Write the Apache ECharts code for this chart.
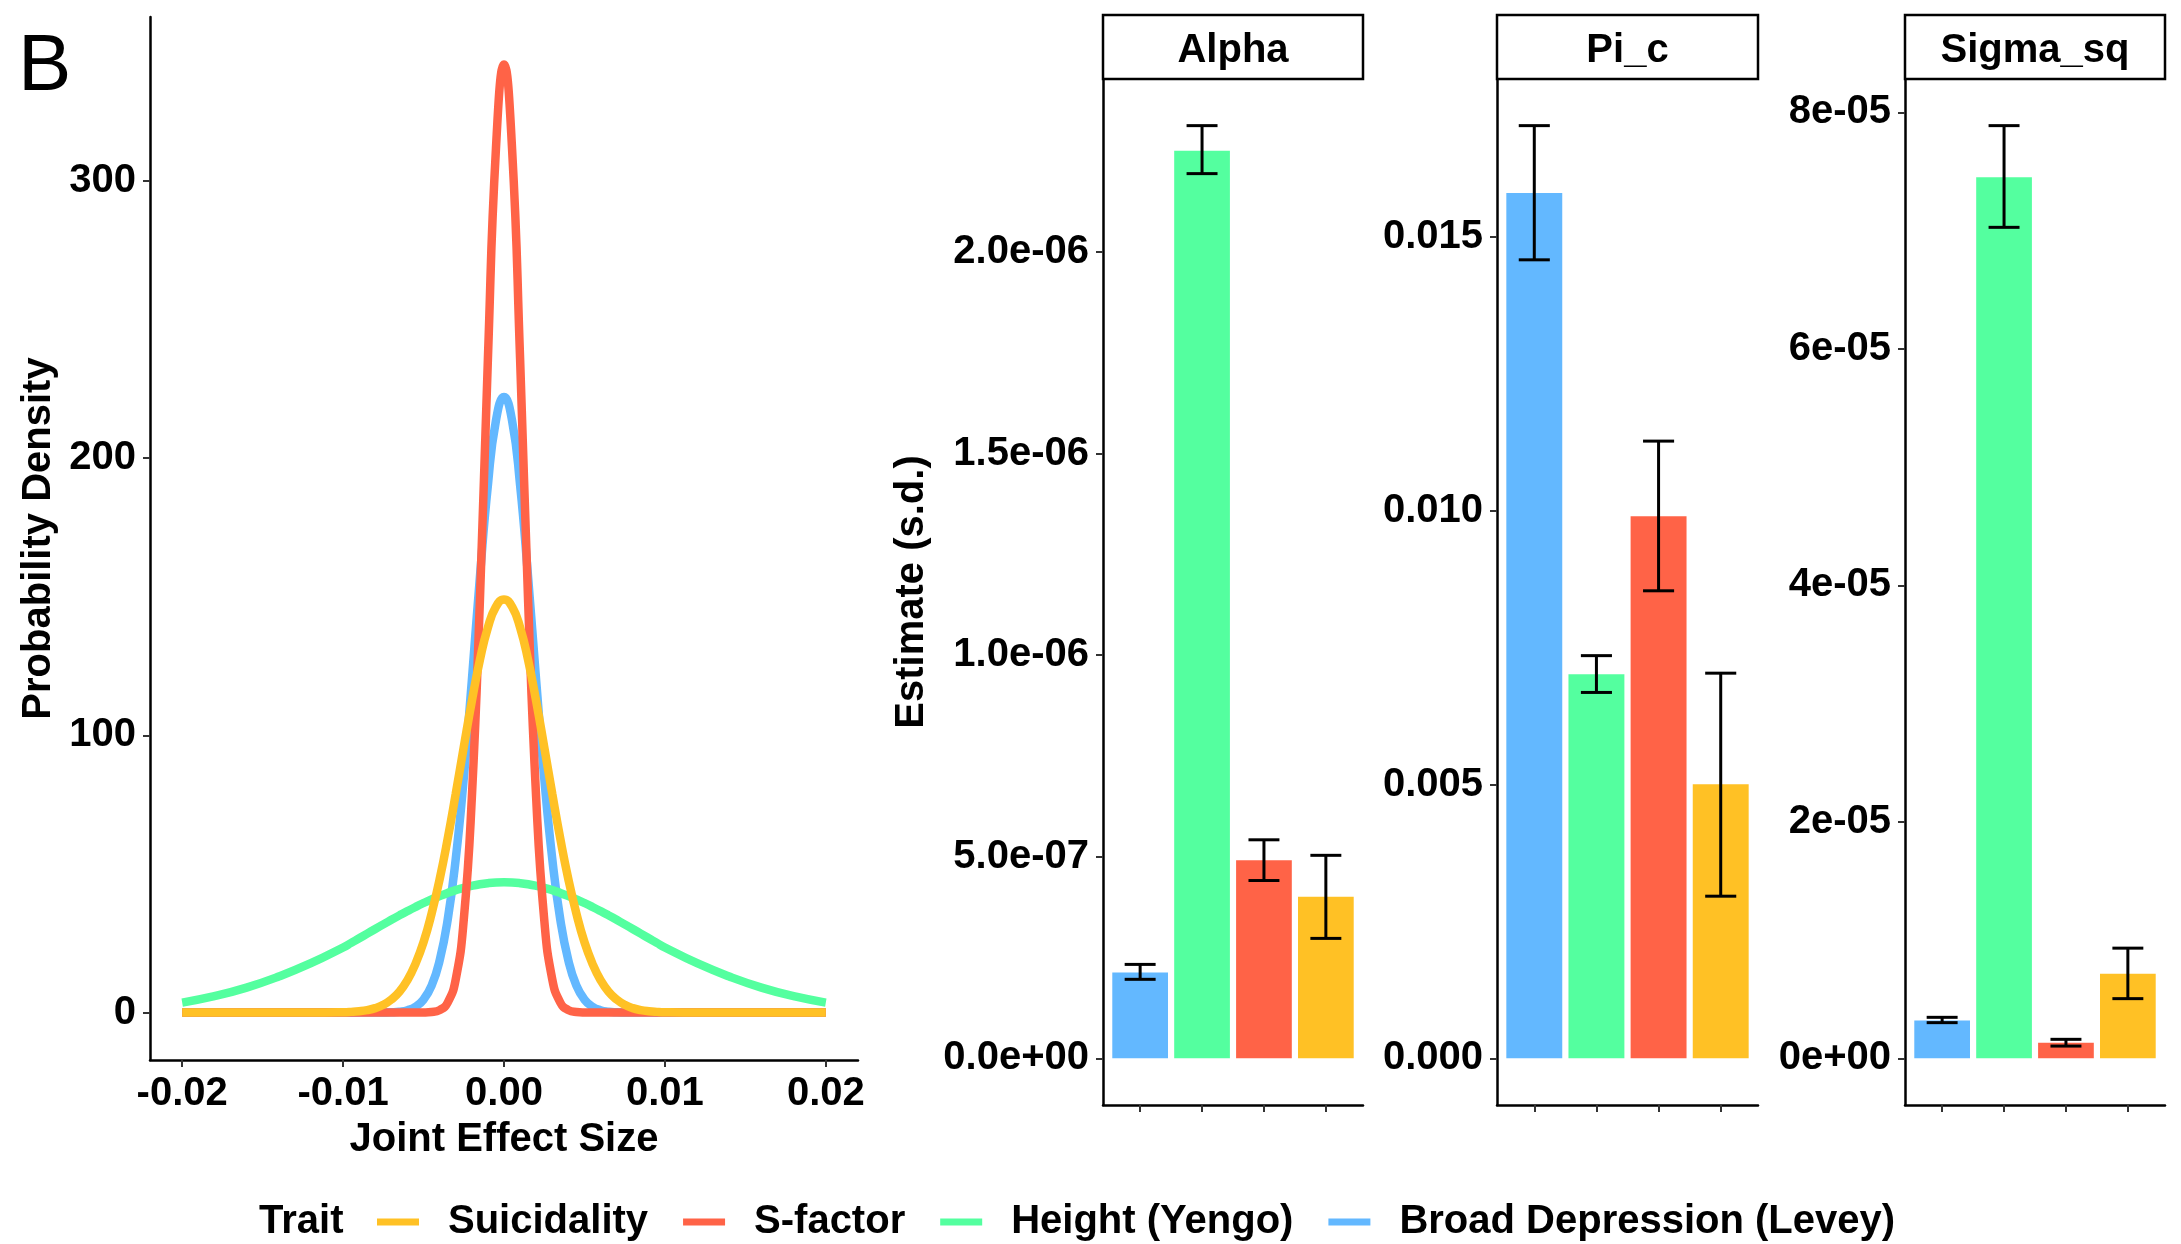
<!DOCTYPE html>
<html><head><meta charset="utf-8">
<script src="https://cdn.jsdelivr.net/npm/echarts@6/dist/echarts.min.js"></script>
<style>html,body{margin:0;padding:0;background:#fff}#c{width:2181px;height:1244px}</style>
</head><body><div id="c"></div>
<script>
// ---------- data ----------
const traits = ['Broad Depression (Levey)', 'Height (Yengo)', 'S-factor', 'Suicidality'];
const traitColors = ['#63B8FF', '#54FF9F', '#FF6347', '#FFC125'];
const legendOrder = ['Suicidality', 'S-factor', 'Height (Yengo)', 'Broad Depression (Levey)'];

const effectX = [-0.02,-0.018,-0.016,-0.014,-0.012,
  -0.01,-0.0095,-0.009,-0.0085,-0.008,-0.0075,-0.007,-0.0065,-0.006,-0.0055,-0.005,-0.0045,-0.004,-0.0035,-0.003,-0.0025,-0.002,-0.0015,-0.001,-0.0005,
  0,
  0.0005,0.001,0.0015,0.002,0.0025,0.003,0.0035,0.004,0.0045,0.005,0.0055,0.006,0.0065,0.007,0.0075,0.008,0.0085,0.009,0.0095,0.01,
  0.012,0.014,0.016,0.018,0.02];

const densityDepression = [0,0,0,0,0,
  0,0,0,0,0,0.04,0.12,0.33,0.86,2.1,4.7,9.7,18.8,33.5,55.4,84.6,119.7,156.9,190.3,213.6,
  222,
  213.6,190.3,156.9,119.7,84.6,55.4,33.5,18.8,9.7,4.7,2.1,0.86,0.33,0.12,0.04,0,0,0,0,0,
  0,0,0,0,0];
const densityHeight = [3.6,5.9,9.0,13.0,17.8,
  23.48,25.13,26.80,28.48,30.16,31.82,33.46,35.06,36.62,38.11,39.52,40.84,42.06,43.17,44.16,45.01,45.71,46.27,46.67,46.92,
  47,
  46.92,46.67,46.27,45.71,45.01,44.16,43.17,42.06,40.84,39.52,38.11,36.62,35.06,33.46,31.82,30.16,28.48,26.80,25.13,23.48,
  17.8,13.0,9.0,5.9,3.6];
const densitySfactor = [0,0,0,0,0,
  0,0,0,0,0,0,0,0,0,0,0.03,0.19,0.9,3.6,12.0,33.5,77.4,148.2,235.9,311.7,
  342,
  311.7,235.9,148.2,77.4,33.5,12.0,3.6,0.9,0.19,0.03,0,0,0,0,0,0,0,0,0,0,
  0,0,0,0,0];
const densitySuicidality = [0,0,0,0,0.01,
  0.13,0.26,0.49,0.9,1.6,2.8,4.7,7.5,11.7,17.6,25.4,35.7,48.1,62.7,78.9,95.8,112.3,127.1,138.9,146.4,
  149,
  146.4,138.9,127.1,112.3,95.8,78.9,62.7,48.1,35.7,25.4,17.6,11.7,7.5,4.7,2.8,1.6,0.9,0.49,0.26,0.13,
  0.01,0,0,0,0];

const panelNames = ['Alpha', 'Pi_c', 'Sigma_sq'];
// order of bars: Broad Depression, Height, S-factor, Suicidality
const alphaEst  = [2.13e-7, 2.251e-6, 4.91e-7, 4.005e-7];
const alphaLow  = [1.96e-7, 2.194e-6, 4.41e-7, 2.975e-7];
const alphaHigh = [2.33e-7, 2.313e-6, 5.42e-7, 5.035e-7];
const piEst  = [0.01580, 0.007013, 0.009896, 0.005007];
const piLow  = [0.01458, 0.006681, 0.008537, 0.002961];
const piHigh = [0.01703, 0.007353, 0.01127, 0.007033];
const sigmaEst  = [3.21e-6, 7.45e-5, 1.33e-6, 7.16e-6];
const sigmaLow  = [3.02e-6, 7.027e-5, 1.04e-6, 5.05e-6];
const sigmaHigh = [3.47e-6, 7.887e-5, 1.61e-6, 9.32e-6];

const densityYTicks = [0, 100, 200, 300];
const densityYLabels = ['0', '100', '200', '300'];
const effectXTicks = [-0.02, -0.01, 0, 0.01, 0.02];
const effectXLabels = ['-0.02', '-0.01', '0.00', '0.01', '0.02'];
const alphaTicks = [0, 5e-7, 1e-6, 1.5e-6, 2e-6];
const alphaLabels = ['0.0e+00', '5.0e-07', '1.0e-06', '1.5e-06', '2.0e-06'];
const piTicks = [0, 0.005, 0.01, 0.015];
const piLabels = ['0.000', '0.005', '0.010', '0.015'];
const sigmaTicks = [0, 2e-5, 4e-5, 6e-5, 8e-5];
const sigmaLabels = ['0e+00', '2e-05', '4e-05', '6e-05', '8e-05'];

// ---------- layout / style ----------
const FONT = 'Liberation Sans, Arial, Helvetica, sans-serif';
const txt = {fontFamily: FONT, fontSize: 40, fontWeight: 'bold', color: '#000'};
const densGrid = {left: 150, top: 17, width: 708, height: 1043};
const panelTop = 79, panelH = 1026, stripTop = 15;
const panelBoxes = [{left: 1103, width: 260}, {left: 1497, width: 261}, {left: 1905, width: 260}];

function labelFmt(ticks, labels) {
  const span = Math.abs(ticks[ticks.length - 1] - ticks[0]) || 1;
  return v => {
    const i = ticks.findIndex(t => Math.abs(t - v) < span * 1e-6);
    return i >= 0 ? labels[i] : '';
  };
}
const axisLine = {show: true, onZero: false, lineStyle: {color: '#000', width: 2.5}};
function tickStyle(ticks) {
  return {show: true, customValues: ticks, length: 7, lineStyle: {color: '#333', width: 2}};
}

const chart = echarts.init(document.getElementById('c'), null, {renderer: 'canvas'});

const densities = [densityDepression, densityHeight, densitySfactor, densitySuicidality];
const densMax = Math.max(...densities.map(a => Math.max(...a)));
const xMin = effectXTicks[0], xMax = effectXTicks[effectXTicks.length - 1];
const xPad = (xMax - xMin) * 0.05;

const grids = [densGrid].concat(panelBoxes.map(p => ({left: p.left, width: p.width, top: panelTop, height: panelH})));

const xAxes = [{
  type: 'value', gridIndex: 0, min: xMin - xPad, max: xMax + xPad,
  axisLine: axisLine, axisTick: tickStyle(effectXTicks),
  axisLabel: Object.assign({customValues: effectXTicks, formatter: labelFmt(effectXTicks, effectXLabels), margin: 14}, txt),
  splitLine: {show: false},
  name: 'Joint Effect Size', nameLocation: 'middle', nameGap: 60, nameTextStyle: txt
}];
const yAxes = [{
  type: 'value', gridIndex: 0, min: -0.05 * densMax, max: 1.05 * densMax,
  axisLine: axisLine, axisTick: tickStyle(densityYTicks),
  axisLabel: Object.assign({customValues: densityYTicks, formatter: labelFmt(densityYTicks, densityYLabels), margin: 14}, txt),
  splitLine: {show: false},
  name: 'Probability Density', nameLocation: 'middle', nameGap: 91, nameRotate: 90, nameTextStyle: txt
}];

const panelData = [
  {est: alphaEst, low: alphaLow, high: alphaHigh, ticks: alphaTicks, labels: alphaLabels},
  {est: piEst, low: piLow, high: piHigh, ticks: piTicks, labels: piLabels},
  {est: sigmaEst, low: sigmaLow, high: sigmaHigh, ticks: sigmaTicks, labels: sigmaLabels}
];
const catPositions = [1, 2, 3, 4];

panelData.forEach((pd, i) => {
  const top = Math.max(...pd.high);
  xAxes.push({
    type: 'value', gridIndex: i + 1, min: 0.4, max: 4.6,
    axisLine: axisLine, axisTick: tickStyle(catPositions),
    axisLabel: {show: false}, splitLine: {show: false}
  });
  const ya = {
    type: 'value', gridIndex: i + 1, min: -0.05 * top, max: 1.05 * top,
    axisLine: axisLine, axisTick: tickStyle(pd.ticks),
    axisLabel: Object.assign({customValues: pd.ticks, formatter: labelFmt(pd.ticks, pd.labels), margin: 14}, txt),
    splitLine: {show: false}
  };
  if (i === 0) {
    Object.assign(ya, {name: 'Estimate (s.d.)', nameLocation: 'middle', nameGap: 171, nameRotate: 90, nameTextStyle: txt});
  }
  yAxes.push(ya);
});

function renderBar(params, api) {
  const c = api.value(0), v = api.value(1), lo = api.value(2), hi = api.value(3);
  const tl = api.coord([c - 0.45, v]);
  const br = api.coord([c + 0.45, 0]);
  const t = api.coord([c, hi]), b = api.coord([c, lo]);
  const cl = api.coord([c - 0.25, hi]), cr = api.coord([c + 0.25, hi]);
  const dl = api.coord([c - 0.25, lo]), dr = api.coord([c + 0.25, lo]);
  const es = {stroke: '#000', lineWidth: 3};
  return {type: 'group', children: [
    {type: 'rect', shape: {x: tl[0], y: tl[1], width: br[0] - tl[0], height: br[1] - tl[1]}, style: {fill: api.visual('color')}},
    {type: 'line', shape: {x1: t[0], y1: t[1], x2: b[0], y2: b[1]}, style: es},
    {type: 'line', shape: {x1: cl[0], y1: cl[1], x2: cr[0], y2: cr[1]}, style: es},
    {type: 'line', shape: {x1: dl[0], y1: dl[1], x2: dr[0], y2: dr[1]}, style: es}
  ]};
}

const series = [];
densities.forEach((d, k) => {
  series.push({
    type: 'line', name: traits[k], xAxisIndex: 0, yAxisIndex: 0,
    data: effectX.map((x, j) => [x, d[j]]),
    smooth: 0.5, showSymbol: false, symbol: 'none',
    lineStyle: {color: traitColors[k], width: 8.5, cap: 'butt'},
    itemStyle: {color: traitColors[k]}, z: 2 + k
  });
});
panelData.forEach((pd, i) => {
  traits.forEach((tr, k) => {
    series.push({
      type: 'custom', name: tr, xAxisIndex: i + 1, yAxisIndex: i + 1,
      itemStyle: {color: traitColors[k]},
      data: [[catPositions[k], pd.est[k], pd.low[k], pd.high[k]]],
      encode: {x: 0, y: 1},
      renderItem: renderBar
    });
  });
});

const graphics = [
  {type: 'text', left: 18, top: 28, style: {text: 'B', fontFamily: FONT, fontSize: 80, fontWeight: 'normal', fill: '#000'}},
  {type: 'text', left: 259, top: 1202, style: {text: 'Trait', fill: '#000', fontFamily: FONT, fontSize: 40, fontWeight: 'bold'}}
];
panelBoxes.forEach((p, i) => {
  graphics.push({type: 'rect', shape: {x: p.left, y: stripTop, width: p.width, height: panelTop - stripTop},
    style: {fill: '#fff', stroke: '#000', lineWidth: 2.5}, z: 10});
  graphics.push({type: 'text', x: p.left + p.width / 2, y: (stripTop + panelTop) / 2 + 4,
    style: {text: panelNames[i], fontFamily: FONT, fontSize: 40, fontWeight: 'bold', fill: '#000', align: 'center', verticalAlign: 'middle'}, z: 11});
});

chart.setOption({
  animation: false,
  backgroundColor: '#fff',
  grid: grids,
  xAxis: xAxes,
  yAxis: yAxes,
  legend: {
    data: legendOrder, left: 377, top: 1202, padding: 0, icon: 'rect',
    itemWidth: 42, itemHeight: 7, itemGap: 35, selectedMode: false,
    textStyle: Object.assign({padding: [0, 0, 0, 24]}, txt)
  },
  graphic: graphics,
  series: series
});
</script></body></html>
